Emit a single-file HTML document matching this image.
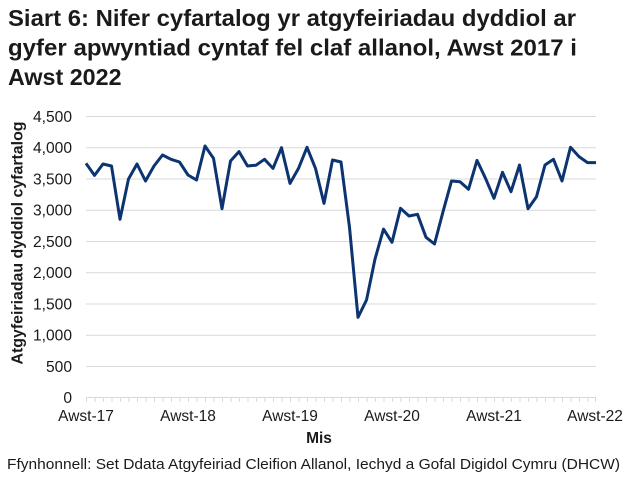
<!DOCTYPE html>
<html><head><meta charset="utf-8"><style>
html,body{margin:0;padding:0;background:#fff;}
svg{display:block;}
text{font-family:"Liberation Sans",Arial,sans-serif;fill:#1a1a1a;}
</style></head><body>
<svg width="634" height="482" viewBox="0 0 634 482" xmlns="http://www.w3.org/2000/svg">
<g font-weight="bold" font-size="23.3">
<text x="8" y="26" textLength="568" lengthAdjust="spacingAndGlyphs">Siart 6: Nifer cyfartalog yr atgyfeiriadau dyddiol ar</text>
<text x="8" y="55.5" textLength="569" lengthAdjust="spacingAndGlyphs">gyfer apwyntiad cyntaf fel claf allanol, Awst 2017 i</text>
<text x="8" y="85">Awst 2022</text>
</g>
<g stroke="#d9d9d9" stroke-width="1">
<line x1="86" x2="596" y1="116.5" y2="116.5"/>
<line x1="86" x2="596" y1="147.75" y2="147.75"/>
<line x1="86" x2="596" y1="179" y2="179"/>
<line x1="86" x2="596" y1="210.25" y2="210.25"/>
<line x1="86" x2="596" y1="241.5" y2="241.5"/>
<line x1="86" x2="596" y1="272.75" y2="272.75"/>
<line x1="86" x2="596" y1="304" y2="304"/>
<line x1="86" x2="596" y1="335.25" y2="335.25"/>
<line x1="86" x2="596" y1="366.5" y2="366.5"/>
<line x1="86" x2="596" y1="397.5" y2="397.5"/>
</g>
<path stroke="#d9d9d9" stroke-width="1" fill="none" d="M86.5 397v5M95 397v5M103.5 397v5M112 397v5M120.5 397v5M129 397v5M137.5 397v5M146 397v5M154.5 397v5M163 397v5M171.5 397v5M180 397v5M188.5 397v5M197 397v5M205.5 397v5M214 397v5M222.5 397v5M231 397v5M239.5 397v5M248 397v5M256.5 397v5M265 397v5M273.5 397v5M282 397v5M290.5 397v5M299 397v5M307.5 397v5M316 397v5M324.5 397v5M333 397v5M341.5 397v5M350 397v5M358.5 397v5M367 397v5M375.5 397v5M384 397v5M392.5 397v5M401 397v5M409.5 397v5M418 397v5M426.5 397v5M435 397v5M443.5 397v5M452 397v5M460.5 397v5M469 397v5M477.5 397v5M486 397v5M494.5 397v5M503 397v5M511.5 397v5M520 397v5M528.5 397v5M537 397v5M545.5 397v5M554 397v5M562.5 397v5M571 397v5M579.5 397v5M588 397v5M595.5 397v5"/>
<g font-size="15.6" text-anchor="end">
<text x="72" y="122">4,500</text>
<text x="72" y="153">4,000</text>
<text x="72" y="184.5">3,500</text>
<text x="72" y="215.5">3,000</text>
<text x="72" y="247">2,500</text>
<text x="72" y="278">2,000</text>
<text x="72" y="309.5">1,500</text>
<text x="72" y="340.5">1,000</text>
<text x="72" y="372">500</text>
<text x="72" y="403">0</text>
</g>
<g font-size="15.5" text-anchor="middle">
<text x="86" y="421">Awst-17</text>
<text x="188" y="421">Awst-18</text>
<text x="290" y="421">Awst-19</text>
<text x="392" y="421">Awst-20</text>
<text x="494" y="421">Awst-21</text>
<text x="595" y="421">Awst-22</text>
</g>
<text x="319" y="443" font-size="15.5" font-weight="bold" text-anchor="middle">Mis</text>
<text transform="translate(22.5,243) rotate(-90)" font-size="15.6" font-weight="bold" text-anchor="middle" textLength="243" lengthAdjust="spacingAndGlyphs">Atgyfeiriadau dyddiol cyfartalog</text>
<text x="7" y="469" font-size="14.8" textLength="613" lengthAdjust="spacingAndGlyphs">Ffynhonnell: Set Ddata Atgyfeiriad Cleifion Allanol, Iechyd a Gofal Digidol Cymru (DHCW)</text>
<polyline fill="none" stroke="#0b3471" stroke-width="3" stroke-linejoin="round" stroke-linecap="butt" points="86,163.3 94.5,175.4 103,164 111.5,166 120,219.3 128.5,179 137,164 145.5,181 154,166 162.5,155 171,159.3 179.5,162 188,175 196.5,180 205,146 213.5,158.3 222,208.7 230.5,161 239,151.6 247.5,166 256,165.2 264.5,159.3 273,168.4 281.5,147.7 290,183.4 298.5,168.4 307,147.3 315.5,168.4 324,203.4 332.5,160 341,162 349.5,227.3 358,317.3 366.5,300 375,259.1 383.5,229.1 392,242.3 400.5,208.3 409,216 417.5,214.3 426,237.3 434.5,244 443,211.7 451.5,181 460,181.7 468.5,189.3 477,160.4 485.5,178.3 494,198.3 502.5,172.3 511,191.7 519.5,165 528,208.7 536.5,196.7 545,165 553.5,159.3 562,181 570.5,147.3 579,156.6 587.5,162.6 596,162.6"/>
</svg>
</body></html>
